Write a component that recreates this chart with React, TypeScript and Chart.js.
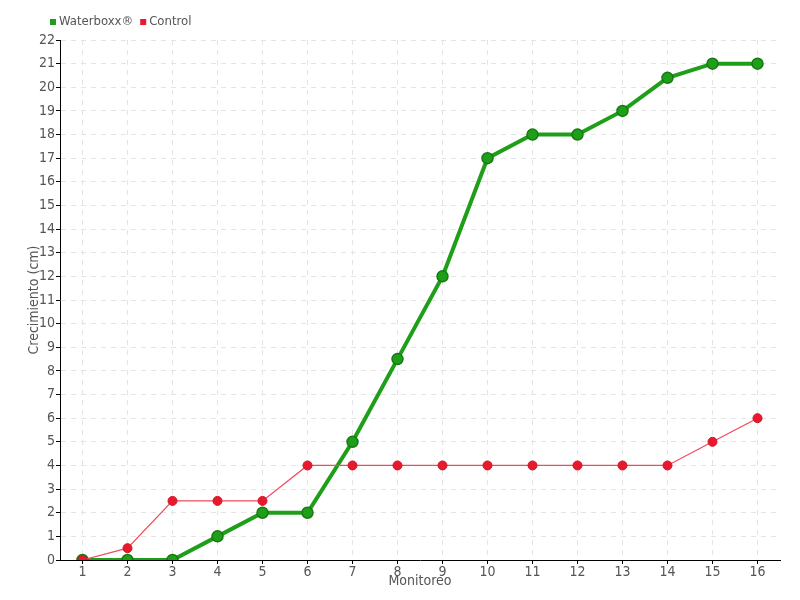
import React, { useEffect, useRef } from "react";
import { Chart, registerables } from "chart.js";

Chart.register(...registerables);

const categories = ["1", "2", "3", "4", "5", "6", "7", "8", "9", "10", "11", "12", "13", "14", "15", "16"];
const waterboxx = [0, 0, 0, 1, 2, 2, 5, 8.5, 12, 17, 18, 18, 19, 20.4, 21, 21];
const control = [0, 0.5, 2.5, 2.5, 2.5, 4, 4, 4, 4, 4, 4, 4, 4, 4, 5, 6];
const yMin = 0;
const yMax = 22;

const FONT = "'DejaVu Sans Condensed', 'DejaVu Sans', sans-serif";
const TEXT = "#555";

const legendPlugin = {
  id: "simpleLegend",
  beforeInit(chart: any) {
    try {
      chart.ctx.fontStretch = "condensed";
    } catch (e) {}
  },
  afterDraw(chart: any) {
    const ctx = chart.ctx;
    ctx.save();
    try {
      ctx.fontStretch = "condensed";
    } catch (e) {}
    ctx.font = `13px ${FONT}`;
    ctx.textBaseline = "middle";
    ctx.textAlign = "left";
    let x = 50;
    const y = 22;
    chart.data.datasets.forEach((d: any) => {
      ctx.fillStyle = d.pointBackgroundColor;
      ctx.fillRect(x, y - 3, 6, 6);
      x += 9;
      ctx.fillStyle = TEXT;
      ctx.fillText(d.label, x, y);
      x += ctx.measureText(d.label).width + 7;
    });
    ctx.restore();
  },
};

export default function App() {
  const ref = useRef<HTMLCanvasElement | null>(null);
  useEffect(() => {
    if (!ref.current) return;
    const chart = new Chart(ref.current, {
      type: "line",
      data: {
        labels: categories,
        datasets: [
          {
            label: "Waterboxx®",
            data: waterboxx,
            borderColor: "#1f9e1a",
            backgroundColor: "#1f9e1a",
            borderWidth: 4,
            pointRadius: 5.5,
            pointBackgroundColor: "#1f9e1a",
            pointBorderColor: "#167a12",
            pointBorderWidth: 1.5,
            tension: 0,
            order: 1,
          },
          {
            label: "Control",
            data: control,
            borderColor: "#f04a5c",
            backgroundColor: "#e8192c",
            borderWidth: 1.2,
            pointRadius: 4.5,
            pointBackgroundColor: "#e8192c",
            pointBorderColor: "#d01525",
            pointBorderWidth: 1,
            tension: 0,
            order: 0,
          },
        ],
      },
      plugins: [legendPlugin],
      options: {
        animation: false,
        responsive: false,
        layout: { padding: { top: 40, right: 20, left: 26, bottom: 10 } },
        plugins: {
          legend: { display: false },
          tooltip: { enabled: false },
        },
        scales: {
          x: {
            type: "category",
            offset: true,
            title: {
              display: true,
              text: "Monitoreo",
              color: TEXT,
              font: { family: FONT, size: 14 },
              padding: { top: -5, bottom: 0 },
            },
            grid: {
              color: "#e4e4e4",
              tickColor: "#000",
              tickLength: 4,
              offset: false,
            },
            border: { color: "#000", width: 1, dash: [5, 5] as any },
            ticks: { color: TEXT, font: { family: FONT, size: 14 }, padding: 0 },
            afterFit: (s: any) => {
              s.height = 30;
            },
          },
          y: {
            min: yMin,
            max: yMax,
            title: {
              display: true,
              text: "Crecimiento (cm)",
              color: TEXT,
              font: { family: FONT, size: 14 },
              padding: { top: 0, bottom: 0 },
            },
            grid: {
              color: "#e4e4e4",
              tickColor: "#000",
              tickLength: 4,
            },
            border: { color: "#000", width: 1, dash: [5, 5] as any },
            ticks: { stepSize: 1, color: TEXT, font: { family: FONT, size: 14 }, padding: 1 },
            afterFit: (s: any) => {
              s.width = 34;
            },
          },
        },
      },
    });
    return () => chart.destroy();
  }, []);
  return (
    <div style={{ position: "absolute", left: 0, top: 0, width: 800, height: 600, background: "#fff" }}>
      <canvas ref={ref} width={800} height={600} />
    </div>
  );
}
